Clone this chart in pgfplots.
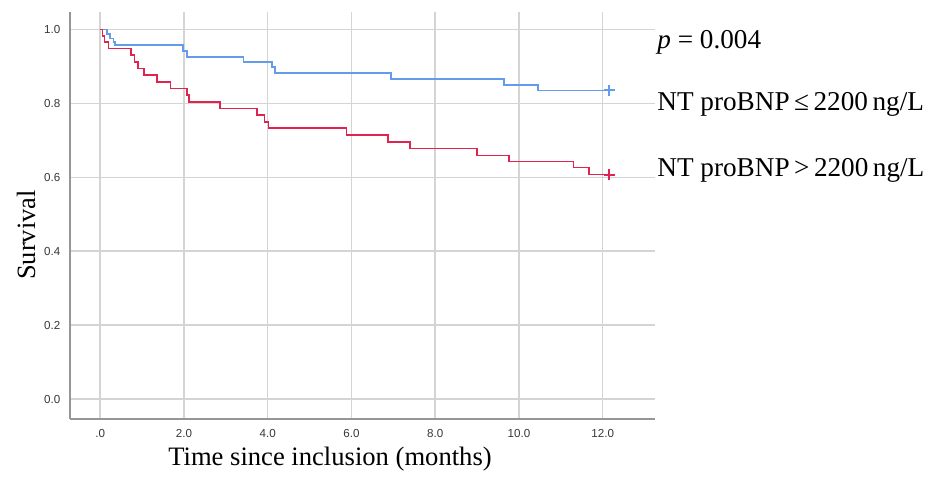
\documentclass[border=0pt]{standalone}
\usepackage{fontspec}
\setmainfont{Liberation Serif}
\newfontfamily\arial{Liberation Sans}
\usepackage{pgfplots}
\pgfplotsset{compat=1.18}

\definecolor{kmblue}{RGB}{100,155,235}
\definecolor{kmred}{RGB}{225,35,80}
\definecolor{gridgray}{RGB}{212,212,212}
\definecolor{axisgray}{RGB}{150,150,150}
\definecolor{ticktext}{RGB}{55,55,55}

% picture units: 1 px of the reference = 0.5pt
\begin{document}
\begin{tikzpicture}
\useasboundingbox (0,0) rectangle (464.5pt,-238.5pt);
\begin{axis}[
    scale only axis, width=292.5pt, height=203.5pt,
    at={(35pt,-209.5pt)}, anchor=south west,
    xmin=-0.72, xmax=13.25, ymin=-0.054, ymax=1.047,
    axis x line=bottom, axis y line=left,
    axis line style={-, draw=axisgray, line width=0.9pt},
    xtick={0,2,4,6,8,10,12},
    xticklabels={.0,2.0,4.0,6.0,8.0,10.0,12.0},
    ytick={0,0.2,0.4,0.6,0.8,1.0},
    yticklabels={0.0,0.2,0.4,0.6,0.8,1.0},
    tick style={draw=none},
    grid=major, major grid style={draw=gridgray, line width=0.7pt},
    tick label style={font=\arial\fontsize{5.8}{6}\selectfont, text=ticktext},
    xticklabel style={anchor=center, inner sep=0pt, yshift=-5pt},
    yticklabel style={anchor=east, inner sep=0pt, xshift=-2.5pt},
    clip=false,
  ]
  % NT proBNP <= 2200 ng/L
  \addplot[const plot mark left, kmblue, line width=0.8pt] coordinates {
    (0,1.0) (0.16,0.988) (0.24,0.975) (0.32,0.966) (0.36,0.957)
    (1.98,0.941) (2.08,0.925) (3.42,0.911) (4.10,0.898) (4.18,0.882)
    (6.94,0.866) (9.64,0.850) (10.46,0.835) (12.16,0.835)};
  % NT proBNP > 2200 ng/L
  \addplot[const plot mark left, kmred, line width=0.8pt] coordinates {
    (0,1.0) (0.06,0.982) (0.10,0.966) (0.20,0.948) (0.74,0.930)
    (0.82,0.912) (0.90,0.894) (1.04,0.876) (1.36,0.858) (1.68,0.840)
    (2.08,0.822) (2.12,0.804) (2.86,0.786) (3.74,0.768) (3.92,0.750)
    (4.02,0.733) (5.88,0.714) (6.88,0.695) (7.40,0.678) (9.00,0.659)
    (9.76,0.643) (11.30,0.626) (11.68,0.607) (12.16,0.607)};
  % censored
  \addplot[only marks, mark=+, mark size=2.6pt, kmblue, line width=0.9pt]
    coordinates {(12.16,0.835)};
  \addplot[only marks, mark=+, mark size=2.6pt, kmred, line width=0.9pt]
    coordinates {(12.16,0.607)};
\end{axis}
\begin{scope}[x=0.5pt, y=-0.5pt]
\node[anchor=west, inner sep=0pt, font=\fontsize{13.6}{15}\selectfont] at (657,42) {\textit{p} = 0.004};
\node[anchor=west, inner sep=0pt, font=\fontsize{13.6}{15}\selectfont] at (657,104) {NT proBNP\,≤\,2200\,ng/L};
\node[anchor=west, inner sep=0pt, font=\fontsize{13.6}{15}\selectfont] at (657,170) {NT proBNP\,>\,2200\,ng/L};
\node[inner sep=0pt, font=\fontsize{13.3}{15}\selectfont] at (330,459) {Time since inclusion (months)};
\node[rotate=90, inner sep=0pt, font=\fontsize{13.2}{15}\selectfont] at (26,235) {Survival};
\end{scope}
\end{tikzpicture}
\end{document}
